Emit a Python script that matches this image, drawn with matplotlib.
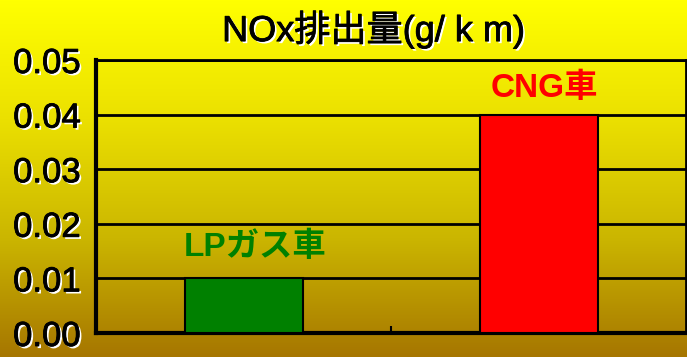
import numpy as np
import matplotlib.pyplot as plt
import matplotlib.patheffects as pe
from matplotlib.colors import LinearSegmentedColormap

# data
cars = ['LPガス車', 'CNG車']
nox = [0.01, 0.04]
bar_colors = ['#008000', '#ff0000']
yticks = [0.00, 0.01, 0.02, 0.03, 0.04, 0.05]

fonts = ['Liberation Sans', 'Noto Sans CJK JP', 'DejaVu Sans']
plt.rcParams['font.family'] = fonts

fig = plt.figure(figsize=(6.87, 3.57), dpi=100)

# gradient background (yellow -> brownish gold)
bg = fig.add_axes([0, 0, 1, 1])
cmap = LinearSegmentedColormap.from_list('bg', ['#ffff00', '#ebe000', '#cbb600', '#a67600'])
bg.imshow(np.linspace(0, 1, 256).reshape(-1, 1), aspect='auto', cmap=cmap, extent=[0, 1, 0, 1])
bg.axis('off')

ax = fig.add_axes([96 / 687, 24 / 357, 590 / 687, 273 / 357])
ax.set_facecolor('none')

# white drop shadow like the original slide text, thin black stroke for weight
shadow = [pe.SimplePatchShadow(offset=(1.5, -1.5), shadow_rgbFace='white', alpha=1),
          pe.Stroke(linewidth=0.6, foreground='black'), pe.Normal()]

x = np.arange(len(cars))
ax.bar(x, nox, width=0.4, color=bar_colors, edgecolor='black', linewidth=1.5, zorder=3)

ax.set_xlim(-0.5, 1.5)
ax.set_ylim(0, 0.05)
ax.set_yticks(yticks)
ax.set_yticklabels(['%.2f' % v for v in yticks], fontsize=25, path_effects=shadow)
ax.tick_params(axis='y', length=0, pad=11)
ax.set_xticks([0.5])
ax.set_xticklabels([''])
ax.tick_params(axis='x', direction='in', length=5, width=1.5)
ax.grid(axis='y', color='black', linewidth=2, zorder=1)
for s in ['left', 'bottom']:
    ax.spines[s].set_linewidth(3)
for s in ['top', 'right']:
    ax.spines[s].set_linewidth(2)

# labels above bars
ax.text(0.04, nox[0] + 0.0056, cars[0], color=bar_colors[0], fontsize=24, fontweight='bold',
        ha='center', va='center', family=['Liberation Sans', 'Noto Sans CJK JP'])
ax.text(1.02, nox[1] + 0.0049, cars[1], color=bar_colors[1], fontsize=24, fontweight='bold',
        ha='center', va='center', family=['Liberation Sans', 'Noto Sans CJK JP'])

fig.text(0.544, 0.916, 'NOx排出量(g/ k m)', fontsize=26, ha='center', va='center', path_effects=shadow)

fig.savefig('out.png', dpi=100)
